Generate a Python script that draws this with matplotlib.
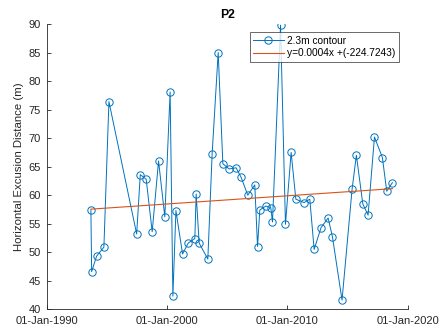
import numpy as np
import matplotlib
matplotlib.use("Agg")
import matplotlib.pyplot as plt
import matplotlib.dates as mdates
from datetime import datetime

plt.rcParams['font.family'] = ['Liberation Sans', 'DejaVu Sans']

dates = ["1993-09-09", "1993-10-01", "1994-02-28", "1994-10-08", "1995-03-10",
         "1997-06-28", "1997-10-16", "1998-04-13", "1998-10-12", "1999-04-23",
         "1999-10-30", "2000-04-08", "2000-07-01", "2000-10-01", "2001-04-20",
         "2001-10-08", "2002-04-28", "2002-06-07", "2002-09-06", "2003-05-27",
         "2003-10-05", "2004-04-05", "2004-08-25", "2005-03-04", "2005-10-01",
         "2006-03-04", "2006-09-20", "2007-04-20", "2007-07-13", "2007-09-20",
         "2008-03-21", "2008-08-18", "2008-10-08", "2009-06-10", "2009-11-06",
         "2010-04-27", "2010-09-16", "2011-05-26", "2011-11-14", "2012-03-25",
         "2012-10-20", "2013-05-23", "2013-10-01", "2014-07-19", "2015-05-19",
         "2015-09-27", "2016-04-08", "2016-09-16", "2017-03-29", "2017-11-24",
         "2018-04-05", "2018-09-24"]
distance = [57.4, 46.6, 49.3, 50.9, 76.4,
            53.2, 63.6, 62.8, 53.6, 66.0,
            56.2, 78.1, 42.3, 57.3, 49.7,
            51.6, 52.4, 60.2, 51.6, 48.8,
            67.3, 85.0, 65.5, 64.6, 64.8,
            63.1, 60.0, 61.8, 51.0, 57.4,
            58.1, 57.8, 55.3, 89.8, 54.9,
            67.5, 59.3, 58.7, 59.3, 50.5,
            54.3, 56.0, 52.7, 41.6, 61.0,
            67.0, 58.5, 56.5, 70.2, 66.6,
            60.7, 62.2]

series_label = "2.3m contour"
trend_label = "y=0.0004x +(-224.7243)"
x_ticks = ["1990-01-01", "2000-01-01", "2010-01-01", "2020-01-01"]
y_ticks = [40, 45, 50, 55, 60, 65, 70, 75, 80, 85, 90]

x = mdates.datestr2num(dates)
y = np.array(distance)
coef = np.polyfit(x, y, 1)
trend = np.polyval(coef, x)

fig = plt.figure(figsize=(4.4, 3.32), dpi=100)
ax = fig.add_axes([46.5 / 440, 1 - 309.3 / 332, (407.7 - 46.5) / 440, (309.3 - 24) / 332])

blue = '#0072BD'
orange = '#D95319'
ax.plot(x, y, '-o', color=blue, lw=0.7, ms=5.3, mfc='none', mew=0.7, label=series_label)
ax.plot(x, trend, '-', color=orange, lw=0.8, label=trend_label)

xt = mdates.datestr2num(x_ticks)
ax.set_xlim(xt[0], xt[-1])
ax.set_xticks(xt)
ax.set_xticklabels([datetime.strptime(d, "%Y-%m-%d").strftime("%d-%b-%Y") for d in x_ticks])
ax.set_ylim(y_ticks[0], y_ticks[-1])
ax.set_yticks(y_ticks)

for s in ['top', 'right']:
    ax.spines[s].set_visible(False)
for s in ['left', 'bottom']:
    ax.spines[s].set_color('#262626')
    ax.spines[s].set_linewidth(0.6)
ax.tick_params(direction='in', length=3, width=0.6, colors='#262626', labelsize=8)
ax.tick_params(axis='x', pad=4.5)
ax.tick_params(axis='y', pad=4)

ax.set_ylabel("Horizontal Excusion Distance (m)", fontsize=8.2, color='#262626', labelpad=3)
ax.set_title("P2", fontsize=8.8, fontweight='bold', pad=4)

leg = ax.legend(loc='upper right', bbox_to_anchor=(0.976, 0.972), fontsize=7.3,
                handlelength=3.0, frameon=True, fancybox=False, edgecolor='#262626',
                borderpad=0.35, labelspacing=0.25, handletextpad=0.35, borderaxespad=0)
leg.get_frame().set_linewidth(0.6)

fig.savefig("out.png", dpi=100)
